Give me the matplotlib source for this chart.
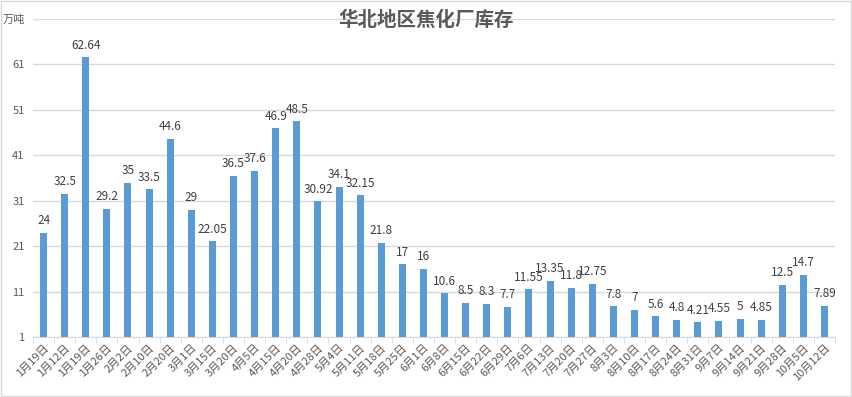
import numpy as np
import matplotlib.pyplot as plt
from matplotlib.patches import Rectangle

plt.rcParams['font.family'] = ['Noto Sans CJK SC', 'DejaVu Sans']

dates = ['1月19日', '1月12日', '1月19日', '1月26日', '2月2日', '2月10日', '2月20日',
         '3月1日', '3月15日', '3月20日', '4月5日', '4月15日', '4月20日', '4月28日',
         '5月4日', '5月11日', '5月18日', '5月25日', '6月1日', '6月8日', '6月15日',
         '6月22日', '6月29日', '7月6日', '7月13日', '7月20日', '7月27日', '8月3日',
         '8月10日', '8月17日', '8月24日', '8月31日', '9月7日', '9月14日', '9月21日',
         '9月28日', '10月5日', '10月12日']
stock = [24, 32.5, 62.64, 29.2, 35, 33.5, 44.6, 29, 22.05, 36.5, 37.6, 46.9, 48.5,
         30.92, 34.1, 32.15, 21.8, 17, 16, 10.6, 8.5, 8.3, 7.7, 11.55, 13.35, 11.8,
         12.75, 7.8, 7, 5.6, 4.8, 4.21, 4.55, 5, 4.85, 12.5, 14.7, 7.89]
yticks = [1, 11, 21, 31, 41, 51, 61, 71]
ytick_labels = ['1', '11', '21', '31', '41', '51', '61', '万吨']

grey = '#595959'
fig = plt.figure(figsize=(8.53, 3.97), dpi=100)
ax = fig.add_axes([33 / 853, 1 - 337 / 397, (835 - 33) / 853, (337 - 19) / 397])
fig.patches.append(Rectangle((0.001, 0.002), 0.997, 0.995, transform=fig.transFigure,
                             fill=False, edgecolor='#d9d9d9', linewidth=1))

x = np.arange(len(stock))
ax.bar(x, stock, width=0.33, color='#5B9BD5', zorder=3)
for xi, v in zip(x, stock):
    ax.text(xi, v + 1.2, f'{v:g}', ha='center', va='bottom', fontsize=8.5, color='#404040')

ax.set_xlim(-0.5, len(stock) - 0.5)
ax.set_ylim(1, 71)
ax.set_yticks(yticks)
ax.set_yticklabels(ytick_labels, fontsize=8, color=grey)
ax.yaxis.grid(True, color='#d9d9d9', linewidth=1)
ax.set_axisbelow(True)
ax.tick_params(axis='y', length=0, pad=6)

ax.set_xticks(x)
ax.set_xticklabels(dates, rotation=45, ha='right', rotation_mode='anchor',
                   fontsize=8, color=grey)
ax.set_xticks(np.arange(-0.5, len(stock)), minor=True)
ax.tick_params(axis='x', which='major', length=0, pad=4)
ax.tick_params(axis='x', which='minor', length=4, color='#d9d9d9')

for s in ['top', 'right', 'left']:
    ax.spines[s].set_visible(False)
ax.spines['bottom'].set_color('#d9d9d9')

fig.text(0.5, 1 - 20 / 397, '华北地区焦化厂库存', ha='center', va='center',
         fontsize=14, fontweight='bold', color=grey)

fig.savefig('out.png', dpi=100)
